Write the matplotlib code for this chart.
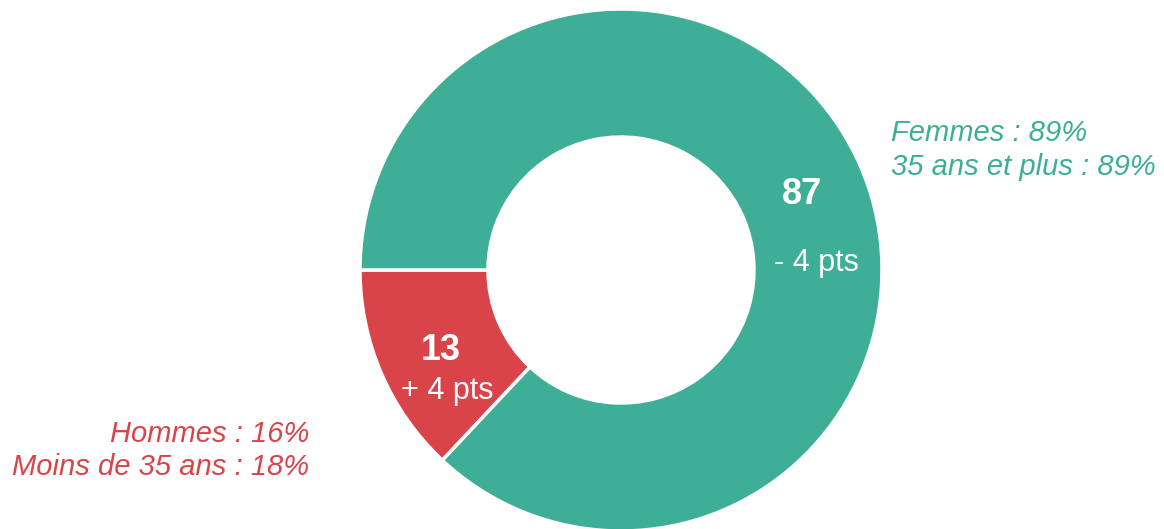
import matplotlib.pyplot as plt

plt.rcParams['font.family'] = ['Liberation Sans', 'DejaVu Sans']

# données
parts = [13, 87]
couleurs = ['#D9444B', '#3EAE96']
valeurs = ['13', '87']
evolutions = ['+ 4 pts', '- 4 pts']
legende_hommes = ['Hommes : 16%', 'Moins de 35 ans : 18%']
legende_femmes = ['Femmes : 89%', '35 ans et plus : 89%']

W, H = 1164, 529
fig = plt.figure(figsize=(W / 100, H / 100), dpi=100)
ax = fig.add_axes([0, 0, 1, 1])

cx, cy = 621, H - 270
rayon = 261
ax.pie(parts, colors=couleurs, startangle=180, counterclock=True,
       center=(cx, cy), radius=rayon, frame=True,
       wedgeprops=dict(width=128, edgecolor='white', linewidth=2.5))
ax.set_xlim(0, W)
ax.set_ylim(0, H)
ax.set_aspect('equal')
ax.axis('off')

# valeurs dans l'anneau
ax.text(441, H - 351, valeurs[0], color='white', fontsize=26, fontweight='bold',
        ha='center', va='center')
ax.text(447, H - 391, evolutions[0], color='white', fontsize=22,
        ha='center', va='center')
ax.text(802, H - 195, valeurs[1], color='white', fontsize=26, fontweight='bold',
        ha='center', va='center')
ax.text(816, H - 263, evolutions[1], color='white', fontsize=22,
        ha='center', va='center')

# légendes
ax.text(891, H - 133, legende_femmes[0], color=couleurs[1], fontsize=21,
        style='italic', ha='left', va='center')
ax.text(891, H - 167, legende_femmes[1], color=couleurs[1], fontsize=21,
        style='italic', ha='left', va='center')
ax.text(309, H - 434, legende_hommes[0], color=couleurs[0], fontsize=21,
        style='italic', ha='right', va='center')
ax.text(309, H - 467, legende_hommes[1], color=couleurs[0], fontsize=21,
        style='italic', ha='right', va='center')

fig.savefig('out.png', dpi=100)
